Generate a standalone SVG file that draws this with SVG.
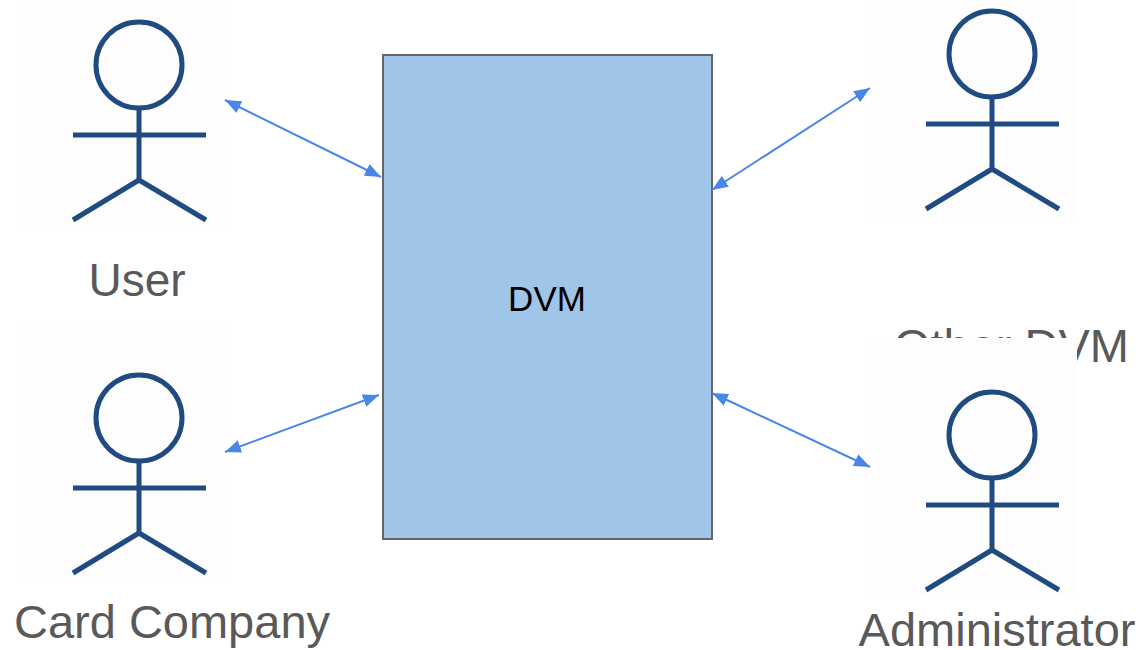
<svg xmlns="http://www.w3.org/2000/svg" width="1142" height="650" viewBox="0 0 1142 650">
<style>
.bg{fill:#fdfdfd;stroke:none}
.actor{fill:none;stroke:#1f4b80;stroke-width:5}
.lbl{font-family:"Liberation Sans",Arial,sans-serif;font-size:47px;fill:#595959;text-anchor:middle}
.conn{stroke:#4a86e8;stroke-width:2;fill:none;marker-start:url(#ah);marker-end:url(#ah)}
</style>
<defs>
<marker id="ah" markerUnits="userSpaceOnUse" markerWidth="17" markerHeight="14" refX="16" refY="6.5" orient="auto-start-reverse">
<path d="M0,0 L16,6.5 L0,13 z" fill="#4a86e8"/>
</marker>
<g id="stick">
<circle cx="0" cy="0" r="43" class="actor"/>
<path class="actor" d="M0,43 V115 M-66,70 H67 M0,115 L-66,155 M0,115 L67,155"/>
</g>
</defs>
<rect width="1142" height="650" fill="#ffffff"/>

<g id="user">
<rect class="bg" x="18" y="0" width="207" height="230"/>
<use href="#stick" x="139" y="65"/>
<text class="lbl" x="137" y="296" style="font-size:46px">User</text>
</g>

<g id="card-company">
<rect class="bg" x="18" y="322" width="207" height="260"/>
<use href="#stick" x="139" y="418"/>
<text class="lbl" x="172" y="638">Card Company</text>
</g>

<g id="other-dvm">
<rect class="bg" x="870" y="0" width="207" height="218"/>
<use href="#stick" x="992" y="54"/>
<text class="lbl" x="1129" y="362" style="text-anchor:end">Other DVM</text>
</g>

<g id="administrator">
<rect class="bg" x="870" y="338" width="207" height="260"/>
<use href="#stick" x="992" y="435"/>
<text class="lbl" x="997" y="646">Administrator</text>
</g>

<g id="dvm">
<rect x="383" y="55" width="329" height="484" fill="#9fc5e8" stroke="#666666" stroke-width="2"/>
<text x="547" y="311" font-family="'Liberation Sans',Arial,sans-serif" font-size="35" fill="#000000" text-anchor="middle">DVM</text>
</g>

<g id="connectors">
<line class="conn" x1="225" y1="100" x2="381" y2="177"/>
<line class="conn" x1="225" y1="452" x2="379" y2="395"/>
<line class="conn" x1="712" y1="190" x2="870" y2="88"/>
<line class="conn" x1="712" y1="393" x2="870" y2="467"/>
</g>
</svg>
